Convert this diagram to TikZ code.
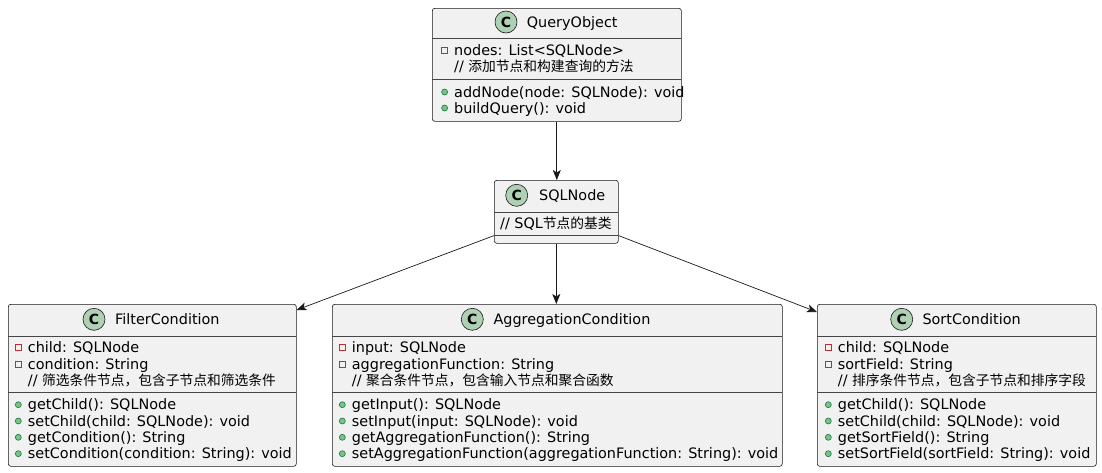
\documentclass[tikz,border=0pt]{standalone}
\usepackage{fontspec}
\setmainfont{DejaVu Sans}
\newfontfamily\cjkraw{Noto Sans CJK SC}[Scale=0.955]
\newcommand\cjk{\cjkraw}
\usetikzlibrary{arrows.meta,calc}
\definecolor{bd}{HTML}{181818}
\definecolor{bg}{HTML}{F1F1F1}
\definecolor{cg}{HTML}{ADD1B2}
\definecolor{pr}{HTML}{C82930}
\definecolor{pubf}{HTML}{84BE84}
\definecolor{pubd}{HTML}{038048}
\tikzset{
  cls/.style={draw=bd, fill=bg, rounded corners=2.5pt, line width=0.6pt, inner sep=0pt, anchor=north west},
  div/.style={draw=bd!80, line width=0.6pt},
  txt/.style={inner sep=0pt, anchor=base west, font=\fontsize{14.4}{16}\selectfont, text=black},
  cicon/.style={circle, draw=bd, fill=cg, line width=0.6pt, minimum size=22pt, inner sep=0pt, font=\fontsize{14}{16}\selectfont\bfseries},
  privico/.style={draw=pr, line width=1pt},
  pubico/.style={draw=pubd, fill=pubf, line width=0.6pt},
  arr/.style={draw=bd, line width=0.7pt, -{Stealth[length=10pt,width=8pt,inset=2.5pt]}}
}
\newcommand\priv[4]{%
  \draw[privico] (#2-12.4,#3-3) rectangle (#2-6.4,#3+3);
  \node[txt] (#1) at (#2,#3+5) {#4};}
\newcommand\pub[4]{%
  \fill[pubico] (#2-9.4,#3) circle (3pt);
  \node[txt] (#1) at (#2,#3+5) {#4};}
\newcommand\cmt[4]{%
  \node[txt] (#1) at (#2,#3+5) {#4};}
\begin{document}
\begin{tikzpicture}[x=1pt,y=-1pt]
\useasboundingbox (0,0) rectangle (1102,472);

% QueryObject
\node[cls, minimum width=249pt, minimum height=113pt] (qo) at (432,8) {};
\draw[div] (432,38.5) -- (681,38.5);
\draw[div] (432,79) -- (681,79);
\node[cicon] (qoc) at (506,22) {C};
\node[txt] (qot) at (526.7,27.5) {QueryObject};
\priv{qo1}{454}{50.7}{nodes: List<SQLNode>}
\cmt{qo2}{454}{66.7}{// {\cjk 添加节点和构建查询的方法}}
\pub{qo3}{454}{92}{addNode(node: SQLNode): void}
\pub{qo4}{454}{108}{buildQuery(): void}

% SQLNode
\node[cls, minimum width=124pt, minimum height=63pt] (sql) at (494,180) {};
\draw[div] (494,212) -- (618,212);
\draw[div] (494,235.5) -- (618,235.5);
\node[cicon] (sqlc) at (516.7,195.3) {C};
\node[txt] (sqlt) at (539,200.8) {SQLNode};
\cmt{sql1}{500}{223.5}{// SQL{\cjk 节点的基类}}

% FilterCondition
\node[cls, minimum width=288pt, minimum height=162pt] (fc) at (8,304) {};
\draw[div] (8,336) -- (296,336);
\draw[div] (8,392) -- (296,392);
\node[cicon] (fcc) at (94,319.3) {C};
\node[txt] (fct) at (115,324.8) {FilterCondition};
\priv{fc1}{27.7}{347.7}{child: SQLNode}
\priv{fc2}{27.7}{364}{condition: String}
\cmt{fc3}{27.7}{380.3}{// {\cjk 筛选条件节点，包含子节点和筛选条件}}
\pub{fc4}{27.7}{404.7}{getChild(): SQLNode}
\pub{fc5}{27.7}{421}{setChild(child: SQLNode): void}
\pub{fc6}{27.7}{437.3}{getCondition(): String}
\pub{fc7}{27.7}{453.7}{setCondition(condition: String): void}

% AggregationCondition
\node[cls, minimum width=450pt, minimum height=162pt] (ac) at (332,304) {};
\draw[div] (332,336) -- (782,336);
\draw[div] (332,392) -- (782,392);
\node[cicon] (acc) at (472.3,319.3) {C};
\node[txt] (act) at (493.3,324.8) {AggregationCondition};
\priv{ac1}{351.7}{347.7}{input: SQLNode}
\priv{ac2}{351.7}{364}{aggregationFunction: String}
\cmt{ac3}{351.7}{380.3}{// {\cjk 聚合条件节点，包含输入节点和聚合函数}}
\pub{ac4}{351.7}{404.7}{getInput(): SQLNode}
\pub{ac5}{351.7}{421}{setInput(input: SQLNode): void}
\pub{ac6}{351.7}{437.3}{getAggregationFunction(): String}
\pub{ac7}{351.7}{453.7}{setAggregationFunction(aggregationFunction: String): void}

% SortCondition
\node[cls, minimum width=279pt, minimum height=162pt] (sc) at (817,304) {};
\draw[div] (817,336) -- (1096,336);
\draw[div] (817,392) -- (1096,392);
\node[cicon] (scc) at (901.7,319.3) {C};
\node[txt] (sct) at (922.3,324.8) {SortCondition};
\priv{sc1}{837.7}{347.7}{child: SQLNode}
\priv{sc2}{837.7}{364}{sortField: String}
\cmt{sc3}{837.7}{380.3}{// {\cjk 排序条件节点，包含子节点和排序字段}}
\pub{sc4}{837.7}{404.7}{getChild(): SQLNode}
\pub{sc5}{837.7}{421}{setChild(child: SQLNode): void}
\pub{sc6}{837.7}{437.3}{getSortField(): String}
\pub{sc7}{837.7}{453.7}{setSortField(sortField: String): void}

% connectors
\coordinate (sqlL) at ($(sql.south west)+(0,-8)$);
\coordinate (sqlR) at ($(sql.south east)+(0,-8)$);
\coordinate (fcIn) at ($(fc.north east)+(0,6)$);
\coordinate (scIn) at ($(sc.north west)+(0,8)$);
\draw[arr] (qo.south) -- (qo.south |- sql.north);
\draw[arr] (sqlL) -- (fcIn);
\draw[arr] (sql.south) -- (sql.south |- ac.north);
\draw[arr] (sqlR) -- (scIn);
\end{tikzpicture}
\end{document}
